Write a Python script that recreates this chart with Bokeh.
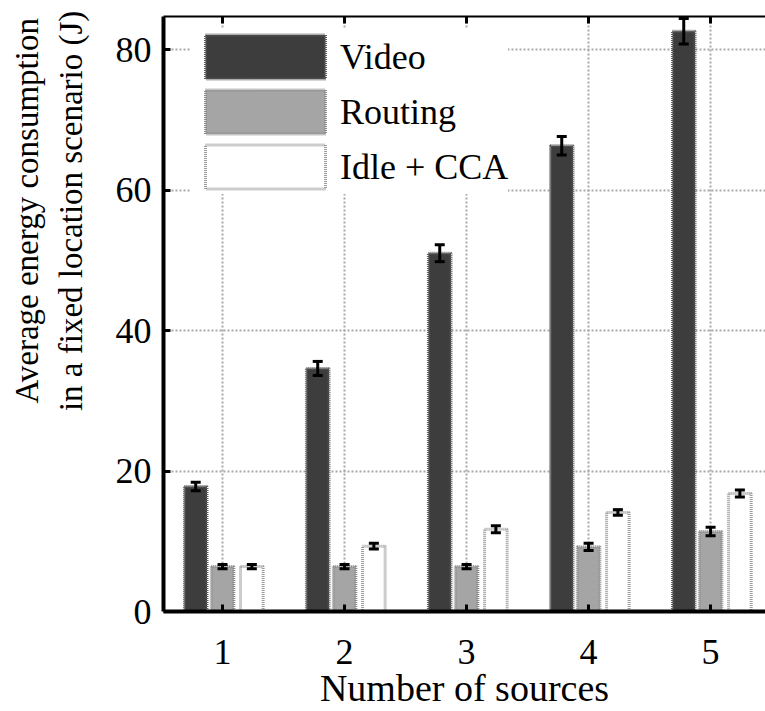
from bokeh.plotting import figure
from bokeh.models import (ColumnDataSource, Whisker, TeeHead, FixedTicker,
                          LinearAxis, Legend, LegendItem, Range1d)
from bokeh.transform import dodge
from bokeh.embed import file_html
from bokeh.resources import INLINE

# ---- data ----
sources = [1, 2, 3, 4, 5]
tick_labels = ["1", "2", "3", "4", "5"]
video = [17.8, 34.6, 51.0, 66.3, 82.6]
video_err = [0.6, 1.0, 1.2, 1.3, 1.8]
routing = [6.4, 6.4, 6.4, 9.2, 11.4]
routing_err = [0.3, 0.3, 0.3, 0.5, 0.6]
idle = [6.4, 9.3, 11.7, 14.1, 16.8]
idle_err = [0.3, 0.4, 0.5, 0.4, 0.5]
y_ticks = [0, 20, 40, 60, 80]
y_label_lines = ["Average energy consumption", "in a fixed location scenario (J)"]

FONT = "Liberation Serif"

src = ColumnDataSource(dict(
    x=sources,
    video=video, video_lo=[v - e for v, e in zip(video, video_err)],
    video_hi=[v + e for v, e in zip(video, video_err)],
    routing=routing, routing_lo=[v - e for v, e in zip(routing, routing_err)],
    routing_hi=[v + e for v, e in zip(routing, routing_err)],
    idle=idle, idle_lo=[v - e for v, e in zip(idle, idle_err)],
    idle_hi=[v + e for v, e in zip(idle, idle_err)],
))

p = figure(width=765, height=711,
           x_range=Range1d(0.516, 5.45), y_range=Range1d(0, 84.7),
           output_backend="svg", toolbar_location=None,
           min_border_left=163, min_border_right=0,
           min_border_top=16, min_border_bottom=99)
p.outline_line_color = None
p.background_fill_color = "white"
p.border_fill_color = "white"

# grid
p.xgrid.ticker = FixedTicker(ticks=sources)
p.ygrid.ticker = FixedTicker(ticks=y_ticks[1:])
for g in (p.xgrid, p.ygrid):
    g.grid_line_color = "#a8a8a8"
    g.grid_line_dash = "2 2"
    g.grid_line_width = 2

BW = 0.185
OFF_V, OFF_R, OFF_I = -0.22, 0.0, 0.24

r_video = p.vbar(x=dodge("x", OFF_V, range=p.x_range), top="video", width=BW,
                 source=src, fill_color="#3d3d3d", line_color="#5a5a5a",
                 line_width=3, line_dash="1 1")
r_routing = p.vbar(x=dodge("x", OFF_R, range=p.x_range), top="routing", width=BW,
                   source=src, fill_color="#a5a5a5", line_color="#8a8a8a",
                   line_width=3, line_dash="1 1")
r_idle = p.vbar(x=dodge("x", OFF_I, range=p.x_range), top="idle", width=BW,
                source=src, fill_color="white", line_color="#9a9a9a",
                line_width=3, line_dash="1 1")

for off, key in ((OFF_V, "video"), (OFF_R, "routing"), (OFF_I, "idle")):
    w = Whisker(base=dodge("x", off, range=p.x_range),
                lower=key + "_lo", upper=key + "_hi", source=src,
                line_color="black", line_width=3, level="overlay",
                upper_head=TeeHead(size=10, line_width=3, line_color="black"),
                lower_head=TeeHead(size=10, line_width=3, line_color="black"))
    p.add_layout(w)

# axes
xa = p.xaxis[0]
xa.ticker = FixedTicker(ticks=sources)
xa.major_label_overrides = {s: t for s, t in zip(sources, tick_labels)}
xa.axis_label = "Number of sources"
ya = p.yaxis[0]
ya.ticker = FixedTicker(ticks=y_ticks)
# the reference title sits high on the axis: pad the start of each line with
# non-breaking spaces so the visible text is shifted towards the top
PAD = "\u00a0" * 25
ya.axis_label = "\n".join(PAD + line for line in y_label_lines)

for ax in (xa, ya):
    ax.axis_line_width = 4
    ax.axis_line_color = "black"
    ax.major_tick_in = 7
    ax.major_tick_out = 0
    ax.major_tick_line_width = 3
    ax.minor_tick_line_color = None
    ax.major_label_text_font = FONT
    ax.major_label_text_font_size = "36px"
    ax.major_label_text_color = "black"
    ax.axis_label_text_font = FONT
    ax.axis_label_text_font_style = "normal"
    ax.axis_label_text_color = "black"

xa.axis_label_text_font_size = "38px"
xa.major_label_standoff = 28
xa.axis_label_standoff = 0
ya.axis_label_text_font_size = "33px"
ya.major_label_standoff = 12
ya.axis_label_standoff = 24

# top frame edge with inward ticks (no labels)
top = LinearAxis(ticker=FixedTicker(ticks=sources),
                 major_label_overrides={s: "" for s in sources},
                 major_label_standoff=0,
                 major_tick_in=7, major_tick_out=0, major_tick_line_width=3,
                 minor_tick_line_color=None, axis_line_width=2,
                 axis_line_color="black")
p.add_layout(top, "above")

legend = Legend(items=[LegendItem(label="Video", renderers=[r_video]),
                       LegendItem(label="Routing", renderers=[r_routing]),
                       LegendItem(label="Idle + CCA", renderers=[r_idle])],
                location=(27, 417))
legend.glyph_width = 150
legend.glyph_height = 55
legend.label_height = 55
legend.spacing = 0
legend.padding = 18
legend.margin = 0
legend.label_standoff = 0
legend.label_text_font = FONT
legend.label_text_font_size = "36px"
legend.label_text_color = "black"
legend.border_line_color = None
legend.background_fill_color = "white"
legend.background_fill_alpha = 1.0
p.add_layout(legend)

open("out.html", "w").write(file_html(p, INLINE))
